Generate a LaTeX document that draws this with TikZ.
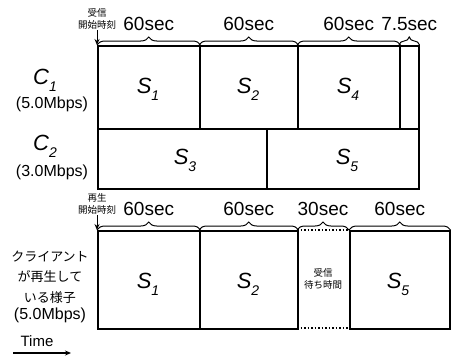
\documentclass[tikz,border=0pt]{standalone}
\usepackage{fontspec}
\setmainfont{Liberation Sans}
\newfontfamily\jpfont{Noto Sans CJK JP}
\usetikzlibrary{decorations.pathreplacing,arrows.meta}
\newcommand\segname[2]{{\fontsize{22}{22}\selectfont\textit{#1}}\raisebox{-7pt}{\fontsize{14}{14}\selectfont\textit{#2}}}
\tikzset{
  seg/.style={draw, line width=1.5pt, minimum height=#1, inner sep=0pt, anchor=north west},
  segw/.style={minimum width=#1},
  brc/.style={decorate, decoration={brace, amplitude=8pt}, line width=1pt},
  durlbl/.style={font=\fontsize{19}{19}\selectfont, inner sep=0pt},
  smalljp/.style={font=\jpfont\fontsize{9.5}{12}\selectfont, align=center, inner sep=0pt},
  rowlbl/.style={inner sep=0pt},
  rate/.style={font=\fontsize{16}{16}\selectfont, inner sep=0pt},
  marker/.style={-{Stealth[length=6pt,width=5pt]}, line width=1pt}
}
\begin{document}
\begin{tikzpicture}[x=1pt,y=-1pt]
\useasboundingbox (0,0) rectangle (452,356);
% top: C1 row
\node[seg=83pt, segw=102pt] (s1) at (97,45) {};
\node[seg=83pt, segw=98pt] (s2) at (199,45) {};
\node[seg=83pt, segw=102pt] (s4) at (297,45) {};
\node[seg=83pt, segw=19pt] (s7) at (399,45) {};
\node at (148,89) {\segname{S}{1}};
\node at (248,89) {\segname{S}{2}};
\node at (348,89) {\segname{S}{4}};
% C2 row
\node[seg=60pt, segw=169pt] (s3) at (97,128) {};
\node[seg=60pt, segw=152pt] (s5) at (266,128) {};
\node at (185,160) {\segname{S}{3}};
\node at (347,160) {\segname{S}{5}};
% braces top
\draw[brc] (s1.north west) -- (s1.north east) node[midway, above=14pt, durlbl] (t1) {60sec};
\draw[brc] (s2.north west) -- (s2.north east) node[midway, above=14pt, durlbl] (t2) {60sec};
\draw[brc] (s4.north west) -- (s4.north east) node[midway, above=14pt, durlbl] (t4) {60sec};
\draw[brc] (s7.north west) -- (s7.north east) node[midway, above=14pt, durlbl] (t7) {7.5sec};
% start marker
\node[smalljp] (rs) at (97,19) {受信\\開始時刻};
\coordinate (rsa) at (97,30);
\draw[marker] (rsa) -- (s1.north west);
% row labels
\node[rowlbl] (c1) at (45,80) {\segname{C}{1}};
\node[rate] (c1r) at (52,104) {(5.0Mbps)};
\node[rowlbl] (c2) at (45,146) {\segname{C}{2}};
\node[rate] (c2r) at (52,172) {(3.0Mbps)};
% bottom: playback
\node[seg=98pt, segw=102pt] (b1) at (97,230) {};
\node[seg=98pt, segw=98pt] (b2) at (199,230) {};
\coordinate (wnw) at (297,230);
\coordinate (wne) at (349,230);
\coordinate (wsw) at (297,328);
\coordinate (wse) at (349,328);
\draw[line width=1.5pt, dotted] (wnw) -- (wne);
\draw[line width=1.5pt, dotted] (wsw) -- (wse);
\node[seg=98pt, segw=100pt] (b5) at (349,230) {};
\node at (148,284) {\segname{S}{1}};
\node at (248,284) {\segname{S}{2}};
\node at (398,284) {\segname{S}{5}};
\node[smalljp] (wait) at (323,279) {受信\\待ち時間};
\draw[brc] (b1.north west) -- (b1.north east) node[midway, above=14pt, durlbl] (u1) {60sec};
\draw[brc] (b2.north west) -- (b2.north east) node[midway, above=14pt, durlbl] (u2) {60sec};
\draw[brc] (wnw) -- (wne) node[midway, above=14pt, durlbl] (u3) {30sec};
\draw[brc] (b5.north west) -- (b5.north east) node[midway, above=14pt, durlbl] (u5) {60sec};
\node[smalljp] (ps) at (97,204) {再生\\開始時刻};
\coordinate (psa) at (97,215);
\draw[marker] (psa) -- (b1.north west);
% client label
\node[font=\jpfont\fontsize{13}{20.5}\selectfont, align=center, inner sep=0pt] (cl) at (50,277) {クライアント\\が再生して\\いる様子};
\node[rate] (clr) at (50,315) {(5.0Mbps)};
% time arrow
\node[font=\fontsize{15}{15}\selectfont, inner sep=0pt] (time) at (37,341) {Time};
\coordinate (ta) at (13,353);
\coordinate (tb) at (71,353);
\draw[-{Stealth[length=6pt,width=5pt]}, line width=1.2pt] (ta) -- (tb);
\end{tikzpicture}
\end{document}
